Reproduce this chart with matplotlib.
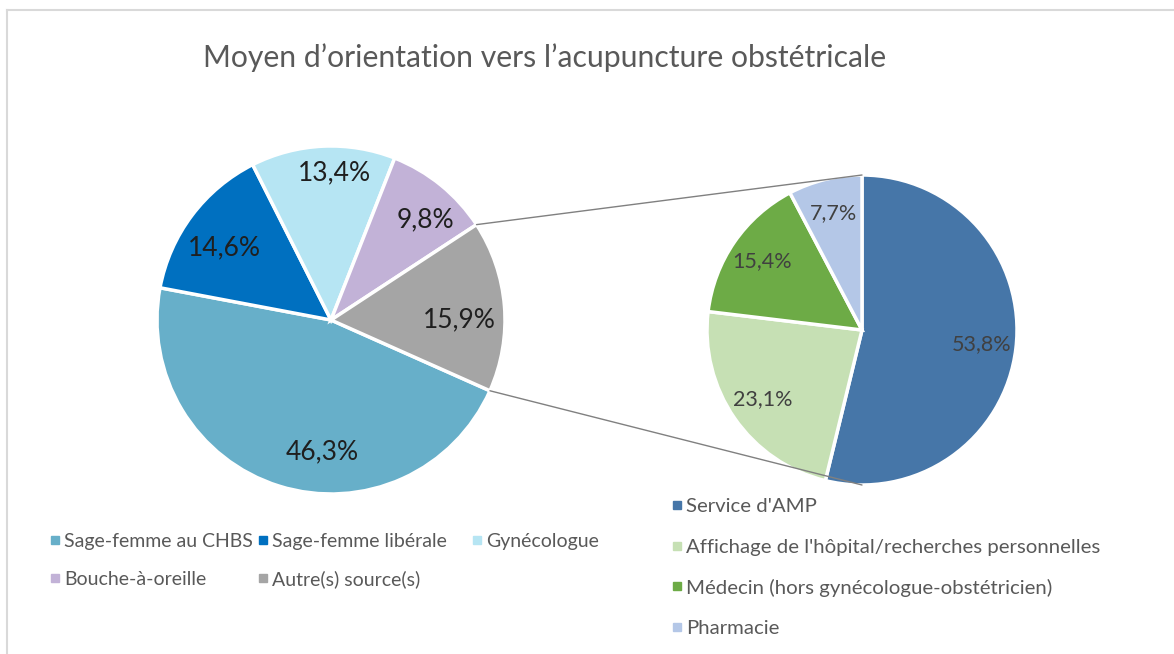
import matplotlib
matplotlib.use("Agg")
import matplotlib.pyplot as plt
from matplotlib.patches import ConnectionPatch
from matplotlib.lines import Line2D
import numpy as np

plt.rcParams['font.family'] = ['Lato', 'DejaVu Sans']

title = "Moyen d’orientation vers l’acupuncture obstétricale"
main_labels = ["Sage-femme au CHBS", "Sage-femme libérale", "Gynécologue",
               "Bouche-à-oreille", "Autre(s) source(s)"]
main_values = [46.3, 14.6, 13.4, 9.8, 15.9]
main_colors = ["#67AFC9", "#0070C0", "#B6E5F3", "#C2B2D7", "#A5A5A5"]

sub_labels = ["Service d'AMP", "Affichage de l'hôpital/recherches personnelles",
              "Médecin (hors gynécologue-obstétricien)", "Pharmacie"]
sub_values = [53.8, 23.1, 15.4, 7.7]
sub_colors = ["#4676A8", "#C6E0B4", "#6DAB46", "#B4C7E7"]

W, H = 1174, 654
fig = plt.figure(figsize=(W / 100, H / 100), dpi=100)

# outer frame (top and left edges visible)
fig.add_artist(Line2D([7 / W, 7 / W], [0, 1 - 10 / H], color="#D9D9D9", lw=1.5))
fig.add_artist(Line2D([7 / W, 1], [1 - 10 / H, 1 - 10 / H], color="#D9D9D9", lw=1.5))


def px_axes(cx, cy, r):
    return fig.add_axes([(cx - r) / W, 1 - (cy + r) / H, 2 * r / W, 2 * r / H])


def fmt(v):
    return f"{v:.1f}".replace(".", ",") + "%"


ax1 = px_axes(331, 320, 174)
ax2 = px_axes(862, 330, 155)

wedges1, _ = ax1.pie(main_values, colors=main_colors, startangle=-24, counterclock=False,
                     wedgeprops=dict(edgecolor="white", linewidth=2.5))
wedges2, _ = ax2.pie(sub_values, colors=sub_colors, startangle=90, counterclock=False,
                     wedgeprops=dict(edgecolor="white", linewidth=2.5))
for ax in (ax1, ax2):
    ax.set_xlim(-1, 1)
    ax.set_ylim(-1, 1)
    ax.set_aspect("equal")
    ax.axis("off")

# data labels (best-fit style placement inside the wedges)
main_label_shift = [13.5, 3, -4, -4, -4.6]
main_label_dist = [0.76, 0.74, 0.845, 0.79, 0.74]
for w, v, sh, d in zip(wedges1, main_values, main_label_shift, main_label_dist):
    th = np.deg2rad((w.theta1 + w.theta2) / 2 + sh)
    ax1.text(d * np.cos(th), d * np.sin(th), fmt(v), ha="center", va="center",
             fontsize=19, color="#1F1F1F")

for w, v in zip(wedges2, sub_values):
    th = np.deg2rad((w.theta1 + w.theta2) / 2)
    ax2.text(0.78 * np.cos(th), 0.78 * np.sin(th), fmt(v), ha="center", va="center",
             fontsize=15.5, color="#404040")

# connector lines from the "Autre" wedge to the secondary pie
other = wedges1[-1]
for ang, yb in ((other.theta1, -1), (other.theta2, 1)):
    a = np.deg2rad(ang)
    con = ConnectionPatch(xyA=(np.cos(a), np.sin(a)), coordsA=ax1.transData,
                          xyB=(0, yb), coordsB=ax2.transData,
                          color="#808080", lw=1)
    fig.add_artist(con)

fig.text(545 / W, 1 - 58 / H, title, ha="center", va="center", fontsize=21.7, color="#595959")


def legend_entry(xm, y, color, label, fs):
    fig.add_artist(Line2D([xm / W], [1 - y / H], marker="s", ls="", color=color,
                          markersize=5.5))
    fig.text((xm + 9) / W, 1 - y / H, label, ha="left", va="center_baseline",
             fontsize=fs, color="#595959")


# left legend: 3 columns, row-major
col_x = [55, 263, 477]
row_y = [540, 578]
for i, (lab, col) in enumerate(zip(main_labels, main_colors)):
    legend_entry(col_x[i % 3], row_y[i // 3], col, lab, 14)

# right legend: single column
for i, (lab, col) in enumerate(zip(sub_labels, sub_colors)):
    legend_entry(677, 505 + 40.5 * i, col, lab, 14.7)

fig.savefig("out.png", dpi=100)
